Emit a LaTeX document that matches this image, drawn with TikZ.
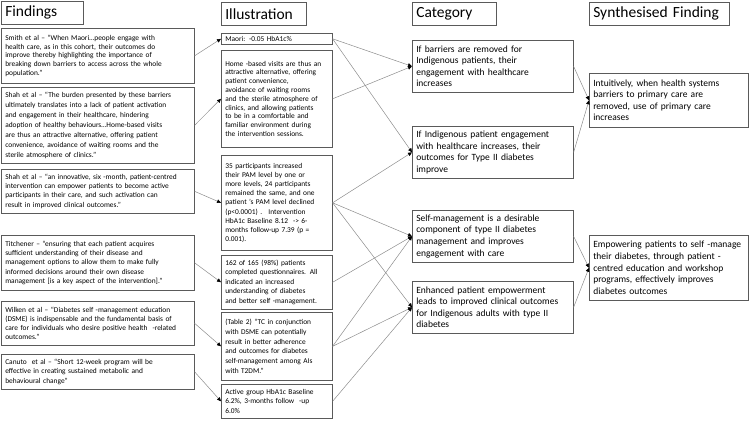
\documentclass[tikz,border=0pt]{standalone}
\usepackage{fontspec}
\setmainfont{Carlito}
\usepackage{tikz}
\usetikzlibrary{arrows.meta,positioning}
\definecolor{boxcolor}{RGB}{90,90,90}
\definecolor{edgecolor}{RGB}{140,140,140}
\tikzstyle{box}=[draw=boxcolor,line width=0.6pt,anchor=north west,align=left,inner xsep=4pt,inner ysep=2pt]
\tikzstyle{header box}=[box,font=\fontsize{15.5}{18}\selectfont,minimum height=23pt]
\tikzstyle{small box}=[box,font=\fontsize{7.4}{9.2}\selectfont]
\tikzstyle{finding}=[small box,text width=185pt]
\tikzstyle{illus}=[small box,text width=103pt]
\tikzstyle{category}=[box,font=\fontsize{9.5}{11.6}\selectfont,text width=153pt,minimum height=52pt]
\tikzstyle{synth}=[category,text width=151pt]
\tikzstyle{linkedge}=[-{Triangle[length=4pt,width=3.6pt,color=black]},draw=edgecolor,line width=0.5pt]

\begin{document}
\begin{tikzpicture}[x=1pt,y=-1pt]
\def\colF{1}
\def\colI{221}
\def\colC{412}
\def\colS{589}
    \useasboundingbox (0,0) rectangle (750,421);

    % column headers
    \node[header box,text width=74pt] (hF) at (\colF,1) {Findings};
    \node[header box,text width=77pt] (hI) at (\colI,2) {Illustration};
    \node[header box,text width=76pt] (hC) at (\colC,2) {Category};
    \node[header box,text width=132pt] (hS) at (\colS,2) {Synthesised Finding};

    % findings
    \node[finding,minimum height=55pt,font=\fontsize{7.4}{8.6}\selectfont] (F1) at (\colF,28) {Smith et al – “When Maori…people engage with\\health care, as in this cohort, their outcomes do\\improve thereby highlighting the importance of\\breaking down barriers to access across the whole\\population.”};
    \node[finding,minimum height=76pt,font=\fontsize{7.4}{10}\selectfont] (F2) at (\colF,87) {Shah et al – “The burden presented by these barriers\\ultimately translates into a lack of patient activation\\and engagement in their healthcare, hindering\\adoption of healthy behaviours…Home-based visits\\are thus an attractive alternative, offering patient\\convenience, avoidance of waiting rooms and the\\sterile atmosphere of clinics.”};
    \node[finding,minimum height=44pt] (F3) at (\colF,169) {Shah et al – “an innovative, six -month, patient-centred\\intervention can empower patients to become active\\participants in their care, and such activation can\\result in improved clinical outcomes.”};
    \node[finding,minimum height=55pt] (F4) at (\colF,235) {Titchener – “ensuring that each patient acquires\\sufficient understanding of their disease and\\management options to allow them to make fully\\informed decisions around their own disease\\management [is a key aspect of the intervention].”};
    \node[finding,minimum height=44pt] (F5) at (\colF,301) {Wilken et al – “Diabetes self -management education\\(DSME) is indispensable and the fundamental basis of\\care for individuals who desire positive health \ -related\\outcomes.”};
    \node[finding,minimum height=35pt,font=\fontsize{7.4}{9.8}\selectfont] (F6) at (\colF,354) {Canuto \ et al – “Short 12-week program will be\\effective in creating sustained metabolic and\\behavioural change”};

    % illustrations
    \node[illus,minimum height=11pt,inner ysep=1pt] (I1) at (\colI,33) {Maori: -0.05 HbA1c\%};
    \node[illus,minimum height=97pt,font=\fontsize{7.4}{8.8}\selectfont] (I2) at (\colI,50) {Home -based visits are thus an\\attractive alternative, offering\\patient convenience,\\avoidance of waiting rooms\\and the sterile atmosphere of\\clinics, and allowing patients\\to be in a comfortable and\\familiar environment during\\the intervention sessions.};
    \node[illus,minimum height=95pt] (I3) at (\colI,155) {35 participants increased\\their PAM level by one or\\more levels, 24 participants\\remained the same, and one\\patient ’s PAM level declined\\(p<0.0001) . \ Intervention\\HbA1c Baseline 8.12 \ -> 6-\\months follow-up 7.39 (p =\\0.001).};
    \node[illus,minimum height=54pt,font=\fontsize{7.4}{9.6}\selectfont] (I4) at (\colI,255) {162 of 165 (98\%) patients\\completed questionnaires. All\\indicated an increased\\understanding of diabetes\\and better self -management.};
    \node[illus,minimum height=68pt,font=\fontsize{7.4}{9.8}\selectfont] (I5) at (\colI,312) {(Table 2) “TC in conjunction\\with DSME can potentially\\result in better adherence\\and outcomes for diabetes\\self-management among AIs\\with T2DM.”};
    \node[illus,minimum height=34pt,font=\fontsize{7.4}{9.8}\selectfont] (I6) at (\colI,384) {Active group HbA1c Baseline\\6.2\%, 3-months follow \ -up\\6.0\%};

    % categories
    \node[category] (C1) at (\colC,40) {If barriers are removed for\\Indigenous patients, their\\engagement with healthcare\\increases};
    \node[category] (C2) at (\colC,126) {If Indigenous patient engagement\\with healthcare increases, their\\outcomes for Type II diabetes\\improve};
    \node[category] (C3) at (\colC,210) {Self-management is a desirable\\component of type II diabetes\\management and improves\\engagement with care};
    \node[category] (C4) at (\colC,281) {Enhanced patient empowerment\\leads to improved clinical outcomes\\for Indigenous adults with type II\\diabetes};

    % synthesised findings
    \node[synth,minimum height=54pt] (S1) at (\colS,73) {Intuitively, when health systems\\barriers to primary care are\\removed, use of primary care\\increases};
    \node[synth,minimum height=65pt] (S2) at (\colS,235) {Empowering patients to self -manage\\their diabetes, through patient -\\centred education and workshop\\programs, effectively improves\\diabetes outcomes};

    % links
    \foreach \source/\dest in {F1/I1,F2/I2,F3/I3,F4/I4,F5/I5,F6/I6}
        \draw[linkedge] (\source.east) -- (\dest.west);

    \foreach \source/\dest in {I1/C1,I1/C2,I2/C1,I3/C2,I3/C3,I3/C4,I4/C3,I5/C3,I5/C4,I6/C4}
        \draw[linkedge] (\source.east) -- (\dest.west);

    \foreach \source/\dest in {C1/S1,C2/S1,C3/S2,C4/S2}
        \draw[linkedge] (\source.east) -- (\dest.west);

\end{tikzpicture}
\end{document}
